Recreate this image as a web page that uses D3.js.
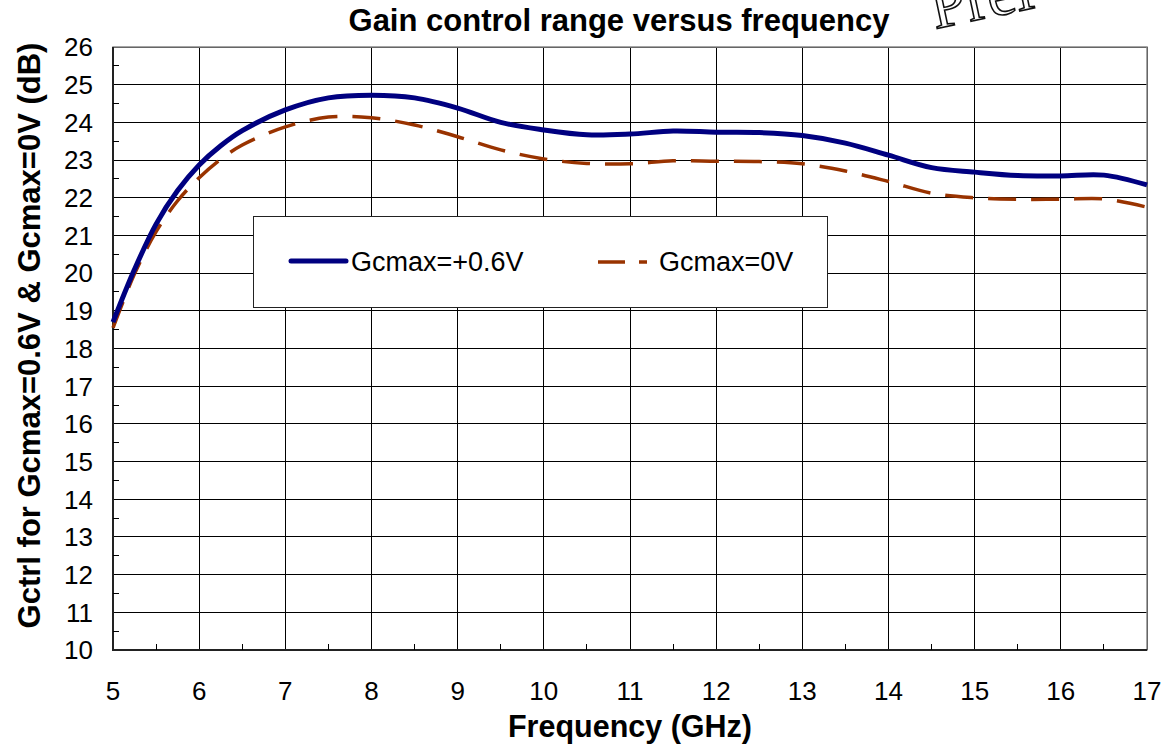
<!DOCTYPE html>
<html>
<head>
<meta charset="utf-8">
<script src="https://cdn.jsdelivr.net/npm/d3@7"></script>
<style>
  body { margin: 0; background: #fff; }
  svg { display: block; font-family: Arial, "Liberation Sans", sans-serif; }
</style>
</head>
<body>
<svg id="chart" width="1172" height="747"></svg>
<script>
// frequency in GHz
const freq = [5, 5.25, 5.5, 5.75, 6, 6.25, 6.5, 7, 7.5, 8, 8.5, 9, 9.5, 10, 10.5, 11, 11.5, 12, 12.5, 13, 13.5, 14, 14.5, 15, 15.5, 16, 16.5, 17];
// Gcmax=+0.6V (dB)
const gainHigh = [18.7, 20.1, 21.3, 22.19, 22.87, 23.38, 23.78, 24.33, 24.65, 24.72, 24.65, 24.38, 24.0, 23.8, 23.67, 23.69, 23.77, 23.74, 23.73, 23.65, 23.45, 23.13, 22.8, 22.68, 22.59, 22.58, 22.6, 22.34];
// Gcmax=0V (dB)
const gainZero = [18.55, 19.98, 21.1, 21.92, 22.53, 23.02, 23.4, 23.88, 24.14, 24.12, 23.93, 23.62, 23.27, 23.03, 22.91, 22.9, 22.98, 22.97, 22.96, 22.9, 22.71, 22.43, 22.12, 22.0, 21.96, 21.96, 21.97, 21.75];

const xTicks = d3.range(5, 18);
const yTicks = d3.range(10, 27);
const seriesNames = ["Gcmax=+0.6V", "Gcmax=0V"];

const margin = {top: 47, right: 25, bottom: 97, left: 113};
const width = 1172, height = 747;

const svg = d3.select("#chart");

const x = d3.scaleLinear().domain([5, 17]).range([margin.left, width - margin.right]);
const y = d3.scaleLinear().domain([10, 26]).range([height - margin.bottom, margin.top]);

// grid
svg.append("g")
    .selectAll("line")
    .data(yTicks)
    .join("line")
        .attr("x1", x(5)).attr("x2", x(17))
        .attr("y1", d => y(d)).attr("y2", d => y(d))
        .attr("stroke", "#000").attr("stroke-width", 1)
        .attr("shape-rendering", "crispEdges");

svg.append("g")
    .selectAll("line")
    .data(xTicks)
    .join("line")
        .attr("x1", d => x(d)).attr("x2", d => x(d))
        .attr("y1", y(10)).attr("y2", y(26))
        .attr("stroke", "#000").attr("stroke-width", 1)
        .attr("shape-rendering", "crispEdges");

// frame
svg.append("rect")
    .attr("x", x(5)).attr("y", y(26))
    .attr("width", x(17) - x(5)).attr("height", y(10) - y(26))
    .attr("fill", "none").attr("stroke", "#888").attr("stroke-width", 1.5);

svg.append("path")
    .attr("d", `M${x(5)},${y(26)}V${y(10)}H${x(17)}`)
    .attr("fill", "none").attr("stroke", "#222").attr("stroke-width", 2);

// minor ticks (inward)
svg.append("g")
    .selectAll("line")
    .data(d3.range(10.5, 26, 1))
    .join("line")
        .attr("x1", x(5)).attr("x2", x(5) + 6)
        .attr("y1", d => y(d)).attr("y2", d => y(d))
        .attr("stroke", "#000").attr("stroke-width", 1)
        .attr("shape-rendering", "crispEdges");

svg.append("g")
    .selectAll("line")
    .data(d3.range(5.5, 17, 1))
    .join("line")
        .attr("x1", d => x(d)).attr("x2", d => x(d))
        .attr("y1", y(10)).attr("y2", y(10) - 6)
        .attr("stroke", "#000").attr("stroke-width", 1)
        .attr("shape-rendering", "crispEdges");

// tick labels
svg.append("g")
    .selectAll("text")
    .data(yTicks)
    .join("text")
        .attr("x", x(5) - 20)
        .attr("y", d => y(d))
        .attr("dy", "0.36em")
        .attr("text-anchor", "end")
        .attr("font-size", 26)
        .text(d => d);

svg.append("g")
    .selectAll("text")
    .data(xTicks)
    .join("text")
        .attr("x", d => x(d))
        .attr("y", 700)
        .attr("text-anchor", "middle")
        .attr("font-size", 26)
        .text(d => d);

// curves
const line = d3.line()
    .x(d => x(d[0]))
    .y(d => y(d[1]))
    .curve(d3.curveCatmullRom.alpha(0.5));

svg.append("path")
    .datum(d3.zip(freq, gainZero))
    .attr("d", line)
    .attr("fill", "none")
    .attr("stroke", "#993300")
    .attr("stroke-width", 3.5)
    .attr("stroke-dasharray", "28,15");

svg.append("path")
    .datum(d3.zip(freq, gainHigh))
    .attr("d", line)
    .attr("fill", "none")
    .attr("stroke", "#000080")
    .attr("stroke-width", 5)
    .attr("stroke-linejoin", "round");

// legend
const lg = svg.append("g");
lg.append("rect")
    .attr("x", 253.5).attr("y", 216.5)
    .attr("width", 574).attr("height", 91)
    .attr("fill", "#fff").attr("stroke", "#222").attr("stroke-width", 1);

lg.append("line")
    .attr("x1", 291).attr("x2", 346).attr("y1", 261).attr("y2", 261)
    .attr("stroke", "#000080").attr("stroke-width", 5).attr("stroke-linecap", "round");
lg.append("text")
    .attr("x", 351).attr("y", 261).attr("dy", "0.36em")
    .attr("font-size", 27).text(seriesNames[0]);

lg.append("line")
    .attr("x1", 598).attr("x2", 625).attr("y1", 262).attr("y2", 262)
    .attr("stroke", "#993300").attr("stroke-width", 3.5);
lg.append("line")
    .attr("x1", 639).attr("x2", 647).attr("y1", 262).attr("y2", 262)
    .attr("stroke", "#993300").attr("stroke-width", 3.5);
lg.append("text")
    .attr("x", 659).attr("y", 261).attr("dy", "0.36em")
    .attr("font-size", 27).text(seriesNames[1]);

// titles
svg.append("text")
    .attr("x", 619).attr("y", 31)
    .attr("text-anchor", "middle")
    .attr("font-size", 31).attr("font-weight", "bold")
    .text("Gain control range versus frequency");

svg.append("text")
    .attr("x", 630).attr("y", 737)
    .attr("text-anchor", "middle")
    .attr("font-size", 30.5).attr("font-weight", "bold")
    .text("Frequency (GHz)");

svg.append("text")
    .attr("transform", `translate(40,${(y(10) + y(26)) / 2 - 13}) rotate(-90)`)
    .attr("text-anchor", "middle")
    .attr("font-size", 31).attr("font-weight", "bold")
    .text("Gctrl for Gcmax=0.6V & Gcmax=0V (dB)");

// watermark (clipped at top edge, as in the source)
svg.append("text")
    .attr("transform", "translate(935,29) rotate(-12)")
    .attr("font-family", "'Liberation Serif', 'DejaVu Serif', serif")
    .attr("font-size", 64)
    .attr("fill", "#fff")
    .attr("stroke", "#111")
    .attr("stroke-width", 1.6)
    .text("Prel");
</script>
</body>
</html>
